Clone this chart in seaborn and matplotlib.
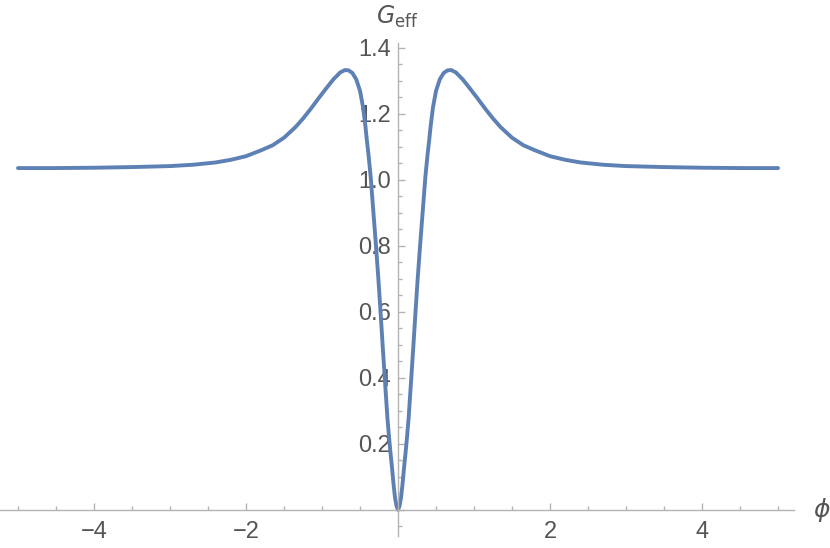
import pandas as pd
import seaborn as sns
import matplotlib.pyplot as plt
from matplotlib.ticker import MultipleLocator, FuncFormatter

# values
phi_left = [-5.0, -4.5, -4.0, -3.5, -3.0, -2.7, -2.4, -2.2, -2.0, -1.8, -1.65,
            -1.5, -1.35, -1.25, -1.15, -1.05, -0.95, -0.85, -0.76, -0.70, -0.65,
            -0.60, -0.55, -0.50, -0.46, -0.43, -0.41, -0.39, -0.36, -0.34, -0.32,
            -0.29, -0.26, -0.23, -0.20, -0.17, -0.14, -0.12, -0.10, -0.08, -0.06,
            -0.04, -0.02]
g_left = [1.036, 1.036, 1.037, 1.039, 1.042, 1.046, 1.053, 1.061, 1.072, 1.090, 1.105,
          1.128, 1.160, 1.186, 1.215, 1.246, 1.276, 1.305, 1.326, 1.333, 1.332,
          1.324, 1.305, 1.270, 1.220, 1.165, 1.120, 1.080, 1.010, 0.950, 0.890,
          0.800, 0.705, 0.600, 0.490, 0.385, 0.280, 0.225, 0.175, 0.130, 0.080,
          0.038, 0.012]
phi_right = [0.0, 0.02, 0.04, 0.06, 0.08, 0.10, 0.12, 0.14, 0.17, 0.20, 0.23,
             0.26, 0.29, 0.32, 0.34, 0.36, 0.39, 0.41, 0.43, 0.46, 0.50, 0.55,
             0.60, 0.65, 0.70, 0.76, 0.85, 0.95, 1.05, 1.15, 1.25, 1.35, 1.5,
             1.65, 1.8, 2.0, 2.2, 2.4, 2.7, 3.0, 3.5, 4.0, 4.5, 5.0]
g_right = [0.0, 0.012, 0.038, 0.080, 0.130, 0.175, 0.225, 0.280, 0.385, 0.490, 0.600,
           0.705, 0.800, 0.890, 0.950, 1.010, 1.080, 1.120, 1.165, 1.220, 1.270, 1.305,
           1.324, 1.332, 1.333, 1.326, 1.305, 1.276, 1.246, 1.215, 1.186, 1.160, 1.128,
           1.105, 1.090, 1.072, 1.061, 1.053, 1.046, 1.042, 1.039, 1.037, 1.036, 1.036]

df = pd.DataFrame({"phi": phi_left + phi_right, "G": g_left + g_right})

sns.set_style("white")
plt.rcParams["font.family"] = ["Liberation Sans", "DejaVu Sans"]
plt.rcParams["mathtext.fontset"] = "dejavusans"

axis_col = "#b3b3b3"
text_col = "#555555"

fig = plt.figure(figsize=(8.3, 5.48), dpi=100)
ax = fig.add_axes([0, 12 / 548, 794 / 830, 493 / 548])
sns.lineplot(data=df, x="phi", y="G", color="#5E81B5", lw=2.8, ax=ax)

ax.set_xlim(-5.237, 5.21)
ax.set_ylim(-0.079, 1.415)

for side in ["top", "right"]:
    ax.spines[side].set_visible(False)
for side in ["left", "bottom"]:
    ax.spines[side].set_position(("data", 0))
    ax.spines[side].set_color(axis_col)
    ax.spines[side].set_linewidth(1.0)

ax.xaxis.set_major_locator(MultipleLocator(2))
ax.xaxis.set_minor_locator(MultipleLocator(0.5))
ax.yaxis.set_major_locator(MultipleLocator(0.2))
ax.yaxis.set_minor_locator(MultipleLocator(0.05))


def fmt_x(v, pos):
    if abs(v) < 1e-9:
        return ""
    return f"{v:.0f}".replace("-", "\u2212")


def fmt_y(v, pos):
    if abs(v) < 1e-9:
        return ""
    return f"{v:.1f}".replace("-", "\u2212")


ax.xaxis.set_major_formatter(FuncFormatter(fmt_x))
ax.yaxis.set_major_formatter(FuncFormatter(fmt_y))

ax.tick_params(which="both", direction="in", bottom=True, left=True,
               color=axis_col, labelcolor=text_col, labelsize=17, width=1.0)
ax.tick_params(which="major", length=5)
ax.tick_params(which="minor", length=3)
ax.tick_params(axis="x", which="major", pad=8)
ax.tick_params(axis="y", which="major", pad=5)

ax.set_xlabel("")
ax.set_ylabel("")
ax.text(5.57, 0, r"$\phi$", color=text_col, fontsize=18, ha="center", va="center")
fig.text(397 / 830, 1 - 17 / 548, r"$G_{\mathrm{eff}}$", color=text_col, fontsize=17,
         ha="center", va="center")

fig.savefig("out.png", dpi=100)
